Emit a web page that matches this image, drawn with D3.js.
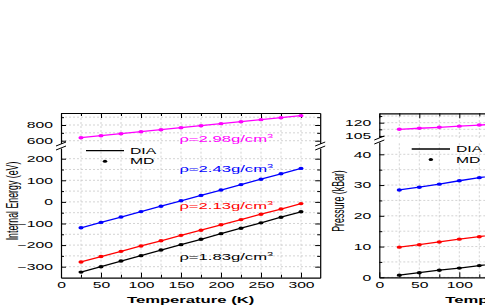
<!DOCTYPE html>
<html>
<head>
<meta charset="utf-8">
<title>Internal energy and pressure vs temperature</title>
<script src="https://d3js.org/d3.v7.min.js"></script>
<style>
  body { margin: 0; background: #fff; }
  svg { display: block; font-family: "Liberation Sans", Arial, sans-serif; }
  .grid line { stroke: #c8c8c8; stroke-width: 0.8; stroke-dasharray: 2,2; }
  .axis .domain { stroke: #000; stroke-width: 1.2; }
  .axis line { stroke: #000; }
</style>
</head>
<body>
<div id="chart"></div>
<script>
// MD temperatures (K)
const temps = [25, 50, 75, 100, 125, 150, 175, 200, 225, 250, 275, 300];
const densities = ["2.98", "2.43", "2.13", "1.83"];
const colors = ["#ff00ff", "#0000ff", "#ff0000", "#000000"];

// internal energy (eV), one array per density
const energy298 = [638, 664, 689, 715, 740, 766, 791, 817, 842, 868, 893, 919];
const energy243 = [-120, -95, -70, -45, -20, 5, 30, 55, 80, 105, 130, 155];
const energy213 = [-278, -253, -229, -204, -180, -155, -131, -106, -82, -57, -33, -8];
const energy183 = [-325, -300, -274, -249, -223, -198, -173, -147, -122, -97, -71, -46];

// pressure (kBar) - right panel is cut by the picture edge
const pressTemps = [25, 50, 75, 100, 125, 150];
const pressure298 = [112.5, 113.7, 114.8, 116.1, 117.3, 118.5];
const pressure243 = [28.4, 29.3, 30.3, 31.4, 32.4, 33.4];
const pressure213 = [9.8, 10.6, 11.5, 12.4, 13.2, 14.1];
const pressure183 = [0.7, 1.5, 2.3, 3.0, 3.8, 4.6];

// tick labels
const xTicks = [0, 50, 100, 150, 200, 250, 300];
const xMinor = [25, 75, 125, 175, 225, 275];
const energyTopTicks = [600, 800];
const energyTopMinor = [700, 900];
const energyTicks = [-300, -200, -100, 0, 100, 200];
const energyMinor = [-250, -150, -50, 50, 150];
const pressTopTicks = [105, 120];
const pressTopMinor = [112.5, 127.5];
const pressTicks = [0, 10, 20, 30, 40];
const pressMinor = [5, 15, 25, 35];

// the source figure is stretched sideways, so all text is too
const SX = 1.85;
const W = 485, H = 305;

const svg = d3.select("#chart").append("svg")
    .attr("width", W)
    .attr("height", H);

function stretchText(g, x, y, txt, anchor, size, weight, color) {
    return g.append("text")
        .attr("transform", `translate(${x},${y}) scale(${SX},1)`)
        .attr("text-anchor", anchor)
        .attr("font-size", size)
        .attr("font-weight", weight || "normal")
        .attr("fill", color || "#000")
        .text(txt);
}

function drawPanel(p) {
    const g = svg.append("g");
    const x = d3.scaleLinear().domain([0, 324]).range([p.left, p.left + 259.2]);
    const xl = p.left, xr = p.left + 259.2;
    const top = p.segs[0].range[1], bottom = p.segs[1].range[0];
    // labels that would land fully outside the picture are not drawn
    const shownTicks = xTicks.filter(d => x(d) < W - 8);

    // grid
    const grid = g.append("g").attr("class", "grid");
    p.segs.forEach(s => {
        const y = d3.scaleLinear().domain(s.domain).range(s.range);
        s.scale = y;
        grid.selectAll(null)
            .data(s.major.concat(s.minor))
            .join("line")
            .attr("x1", xl).attr("x2", xr)
            .attr("y1", d => y(d)).attr("y2", d => y(d));
        grid.selectAll(null)
            .data(xTicks.concat(xMinor).filter(d => d > 0))
            .join("line")
            .attr("x1", d => x(d)).attr("x2", d => x(d))
            .attr("y1", s.range[0]).attr("y2", s.range[1]);
    });

    // y axes, one pair per segment
    p.segs.forEach(s => {
        const ax = g.append("g").attr("class", "axis")
            .attr("transform", `translate(${xl},0)`)
            .call(d3.axisLeft(s.scale).tickValues(s.major).tickSize(-5).tickSizeOuter(0).tickPadding(8));
        ax.selectAll("text")
            .attr("x", -8 / SX)
            .attr("transform", `scale(${SX},1)`)
            .attr("font-size", 8.5)
            .attr("font-family", null);
        g.append("g").attr("class", "axis")
            .attr("transform", `translate(${xl},0)`)
            .call(d3.axisLeft(s.scale).tickValues(s.minor).tickSize(-3).tickFormat(""))
            .select(".domain").remove();
        g.append("g").attr("class", "axis")
            .attr("transform", `translate(${xr},0)`)
            .call(d3.axisRight(s.scale).tickValues(s.major).tickSize(-5).tickSizeOuter(0).tickFormat(""));
        g.append("g").attr("class", "axis")
            .attr("transform", `translate(${xr},0)`)
            .call(d3.axisRight(s.scale).tickValues(s.minor).tickSize(-3).tickFormat(""))
            .select(".domain").remove();
    });

    // break marks on both side axes
    [xl, xr].forEach(bx => {
        const c = (p.segs[0].range[0] + p.segs[1].range[1]) / 2;
        g.append("rect").attr("x", bx - 2).attr("y", c - 2).attr("width", 4).attr("height", 4).attr("fill", "#fff");
        [-2, 2].forEach(o => {
            g.append("line")
                .attr("x1", bx - 5).attr("y1", c + o + 2)
                .attr("x2", bx + 5).attr("y2", c + o - 2)
                .attr("stroke", "#000").attr("stroke-width", 1);
        });
    });

    // x axes
    const bx = g.append("g").attr("class", "axis")
        .attr("transform", `translate(0,${bottom})`)
        .call(d3.axisBottom(x).tickValues(shownTicks).tickSize(-5).tickSizeOuter(0).tickPadding(4.3));
    bx.selectAll("text")
        .attr("transform", `scale(${SX},1)`)
        .attr("font-size", 8.5)
        .attr("font-family", null);
    g.append("g").attr("class", "axis")
        .attr("transform", `translate(0,${bottom})`)
        .call(d3.axisBottom(x).tickValues(xTicks.filter(d => shownTicks.indexOf(d) < 0).concat(xMinor)).tickSize(-3).tickFormat(""))
        .select(".domain").remove();
    g.append("g").attr("class", "axis")
        .attr("transform", `translate(0,${top})`)
        .call(d3.axisTop(x).tickValues(xTicks).tickSize(-5).tickSizeOuter(0).tickFormat(""));
    g.append("g").attr("class", "axis")
        .attr("transform", `translate(0,${top})`)
        .call(d3.axisTop(x).tickValues(xMinor).tickSize(-3).tickFormat(""))
        .select(".domain").remove();

    // series: DIA line + MD points
    p.series.forEach((vals, i) => {
        const y = p.segs[i === 0 ? 0 : 1].scale;
        const pts = p.t.map((t, j) => ({ t: t, v: vals[j] }));
        g.append("path")
            .datum(pts)
            .attr("fill", "none")
            .attr("stroke", colors[i])
            .attr("stroke-width", 1.3)
            .attr("d", d3.line().x(d => x(d.t)).y(d => y(d.v)));
        g.selectAll(null)
            .data(pts)
            .join("ellipse")
            .attr("cx", d => x(d.t))
            .attr("cy", d => y(d.v))
            .attr("rx", 2.6).attr("ry", 1.7)
            .attr("fill", colors[i]);
    });

    // legend
    const L = p.legend;
    g.append("line")
        .attr("x1", L.x1).attr("x2", L.x2)
        .attr("y1", L.y).attr("y2", L.y)
        .attr("stroke", "#000").attr("stroke-width", 1.3);
    stretchText(g, L.tx, L.y + 3, "DIA", "start", 8.5);
    g.append("ellipse")
        .attr("cx", (L.x1 + L.x2) / 2).attr("cy", L.y + 10.5)
        .attr("rx", 2.2).attr("ry", 1.5).attr("fill", "#000");
    stretchText(g, L.tx, L.y + 13.5, "MD", "start", 8.5);

    // axis titles
    stretchText(g, (xl + xr) / 2, 303, "Temperature (K)", "middle", 9, "bold");
    g.append("text")
        .attr("transform", `translate(${p.ylabX},201) scale(${SX},1) rotate(-90)`)
        .attr("text-anchor", "middle")
        .attr("font-size", 8.8)
        .text(p.ylabel);

    return { g: g, x: x };
}

const left = drawPanel({
    left: 61,
    t: temps,
    series: [energy298, energy243, energy213, energy183],
    segs: [
        { domain: [558, 953], range: [144, 113], major: energyTopTicks, minor: energyTopMinor },
        { domain: [-351, 249.5], range: [277.7, 148], major: energyTicks, minor: energyMinor }
    ],
    legend: { x1: 86, x2: 124, y: 150.7, tx: 130 },
    ylabel: "Internal Energy (eV)",
    ylabX: 18
});

drawPanel({
    left: 379.3,
    t: pressTemps,
    series: [pressure298, pressure243, pressure213, pressure183],
    segs: [
        { domain: [102.7, 130.6], range: [138, 113.3], major: pressTopTicks, minor: pressTopMinor },
        { domain: [0, 44], range: [277.3, 142], major: pressTicks, minor: pressMinor }
    ],
    legend: { x1: 411.7, x2: 450, y: 149, tx: 456 },
    ylabel: "Pressure (kBar)",
    ylabX: 344
});

// density labels on the energy panel
const labelY = [142, 172, 209, 260];
densities.forEach((d, i) => {
    const t = stretchText(left.g, left.x(148), labelY[i], "\u03c1=" + d + "g/cm", "start", 9, "normal", colors[i]);
    t.append("tspan").attr("dy", -4).attr("font-size", 6).text("3");
});
</script>
</body>
</html>
